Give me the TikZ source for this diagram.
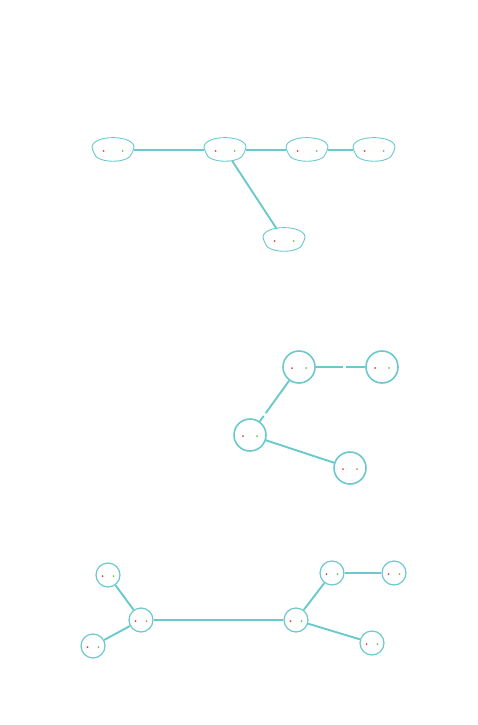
\documentclass[tikz,border=0pt]{standalone}
\usepackage{tikz}
\usetikzlibrary{shapes.geometric,calc}
\definecolor{teal}{HTML}{6BC9CC}
\definecolor{dotred}{HTML}{EE3B3B}
\definecolor{dotgreen}{HTML}{7CC04B}
\tikzset{
  dots/.style={path picture={
    \fill[dotred] ([xshift=-#1,yshift=-1pt]path picture bounding box.center) circle (1pt);
    \fill[dotgreen] ([xshift=#1,yshift=-1pt]path picture bounding box.center) circle (1pt);}},
  blob/.style={shape=ellipse,minimum width=42pt,minimum height=23pt,inner sep=0pt,dots=9.5pt},
  blobline/.style={draw=teal,line width=0.9pt},
  bigball/.style={shape=circle,minimum size=32pt,inner sep=0pt,draw=teal,line width=1.6pt,fill=white,dots=7pt},
  ball/.style={shape=circle,minimum size=24pt,inner sep=0pt,draw=teal,line width=1.2pt,fill=white,dots=5.5pt},
  link/.style={draw=teal,line width=1.9pt}
}
\begin{document}
\begin{tikzpicture}[x=1pt,y=-1pt]
\useasboundingbox (0,0) rectangle (477,725);
% top tree
\path (113,150) node (t1) [blob] {};
\path (225,150) node (t2) [blob] {};
\path (307,150) node (t3) [blob] {};
\path (374,150) node (t4) [blob] {};
\path (284,240) node (t5) [blob] {};
\foreach \n in {t1,t2,t3,t4,t5}
  \draw [blobline] ($(\n)+(-21,-3)$) .. controls ($(\n)+(-20,-15.5)$) and ($(\n)+(20,-15.5)$) .. ($(\n)+(21,-3)$)
    .. controls ($(\n)+(21.5,0)$) and ($(\n)+(19,0.5)$) .. ($(\n)+(19,3)$)
    .. controls ($(\n)+(17,14)$) and ($(\n)+(-17,14)$) .. ($(\n)+(-19,3)$)
    .. controls ($(\n)+(-19,0.5)$) and ($(\n)+(-21.5,0)$) .. cycle;

% middle tree
\path (299,367) node (m1) [bigball] {};
\path (382,367) node (m2) [bigball] {};
\path (250,435) node (m3) [bigball] {};
\path (350,468) node (m4) [bigball] {};

% bottom tree
\path (108,575) node (b1) [ball] {};
\path (141,620) node (b2) [ball] {};
\path (93,646) node (b3) [ball] {};
\path (296,620) node (b4) [ball] {};
\path (332,573) node (b5) [ball] {};
\path (394,573) node (b6) [ball] {};
\path (372,643) node (b7) [ball] {};

\draw [link] (t1) to (t2);
\draw [link] (t2) to (t3);
\draw [link] (t3) to (t4);
\draw [link] (t2) to (t5);

\draw [link] (m1) -- ($(m1)!0.53!(m2)$);
\draw [link] ($(m1)!0.57!(m2)$) -- (m2);
\draw [link] (m1) -- ($(m1)!0.68!(m3)$);
\draw [link] ($(m1)!0.72!(m3)$) -- (m3);
\draw [link] (m3) to (m4);

\draw [link] (b1) to (b2);
\draw [link] (b3) to (b2);
\draw [link] (b2) to (b4);
\draw [link] (b4) to (b5);
\draw [link] (b5) to (b6);
\draw [link] (b4) to (b7);

\end{tikzpicture}
\end{document}
